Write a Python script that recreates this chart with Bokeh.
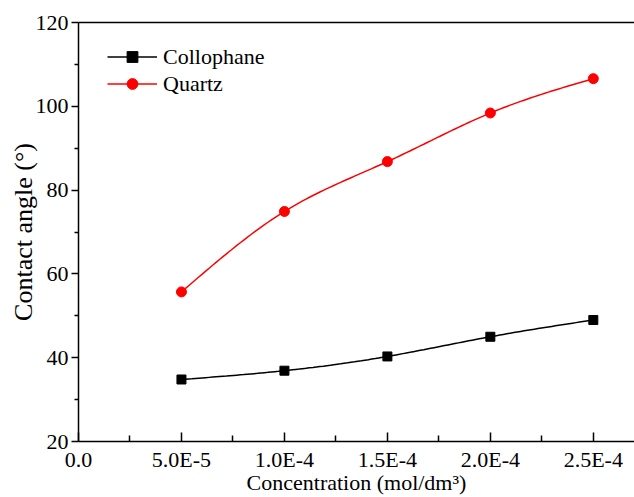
import numpy as np
from bokeh.plotting import figure
from bokeh.models import Range1d, FixedTicker, LinearAxis
from bokeh.embed import file_html
from bokeh.resources import INLINE

# ---- data ----
concentration = [5e-5, 1e-4, 1.5e-4, 2e-4, 2.5e-4]
collophane = [34.8, 36.9, 40.3, 45.0, 49.0]
quartz = [55.7, 74.9, 86.8, 98.4, 106.6]

x_ticks = [0.0, 5e-5, 1e-4, 1.5e-4, 2e-4, 2.5e-4]
x_tick_labels = ["0.0", "5.0E-5", "1.0E-4", "1.5E-4", "2.0E-4", "2.5E-4"]
x_minor = [2.5e-5, 7.5e-5, 1.25e-4, 1.75e-4, 2.25e-4]
y_ticks = [20, 40, 60, 80, 100, 120]
y_minor = [30, 50, 70, 90, 110]

FONT = "Liberation Serif"


def natural_spline(x, y, n=120):
    x = np.asarray(x, float)
    y = np.asarray(y, float)
    k = len(x)
    h = np.diff(x)
    A = np.zeros((k, k))
    b = np.zeros(k)
    A[0, 0] = 1
    A[-1, -1] = 1
    for i in range(1, k - 1):
        A[i, i - 1] = h[i - 1]
        A[i, i] = 2 * (h[i - 1] + h[i])
        A[i, i + 1] = h[i]
        b[i] = 6 * ((y[i + 1] - y[i]) / h[i] - (y[i] - y[i - 1]) / h[i - 1])
    M = np.linalg.solve(A, b)
    xs = np.linspace(x[0], x[-1], n)
    ys = np.empty_like(xs)
    for j, xv in enumerate(xs):
        i = min(np.searchsorted(x, xv, side="right") - 1, k - 2)
        t1 = x[i + 1] - xv
        t0 = xv - x[i]
        ys[j] = (M[i] * t1 ** 3 / (6 * h[i]) + M[i + 1] * t0 ** 3 / (6 * h[i])
                 + (y[i] / h[i] - M[i] * h[i] / 6) * t1
                 + (y[i + 1] / h[i] - M[i + 1] * h[i] / 6) * t0)
    return xs, ys


p = figure(width=634, height=497, output_backend="svg", toolbar_location=None,
           x_range=Range1d(0, 2.70e-4), y_range=Range1d(20, 120),
           min_border_left=78, min_border_top=22, min_border_bottom=56,
           min_border_right=0)
p.outline_line_color = None
p.xgrid.visible = False
p.ygrid.visible = False
p.background_fill_color = "white"

cx, cy = natural_spline(concentration, collophane)
qx, qy = natural_spline(concentration, quartz)

p.line(cx, cy, line_color="black", line_width=1.5, legend_label="Collophane")
p.scatter(concentration, collophane, marker="square", size=9, color="black",
          legend_label="Collophane")
p.line(qx, qy, line_color="#ff0000", line_width=1.5, legend_label="Quartz")
p.scatter(concentration, quartz, marker="circle", size=10, color="#ff0000",
          legend_label="Quartz")

# x axis
xa = p.xaxis[0]
xa.ticker = FixedTicker(ticks=x_ticks, minor_ticks=x_minor)
xa.major_label_overrides = {t: l for t, l in zip(x_ticks, x_tick_labels)}
xa.axis_label = "Concentration (mol/dm\u00b3)"
xa.major_tick_in = 9
xa.major_tick_out = 0
xa.minor_tick_in = 6
xa.minor_tick_out = 0
xa.major_label_standoff = 5
xa.axis_label_standoff = -5

# y axis
ya = p.yaxis[0]
ya.ticker = FixedTicker(ticks=y_ticks, minor_ticks=y_minor)
ya.axis_label = "Contact angle (\u00b0)"
ya.major_tick_in = 0
ya.major_tick_out = 7
ya.minor_tick_in = 0
ya.minor_tick_out = 4
ya.major_label_standoff = 3
ya.axis_label_standoff = -5

for ax in (xa, ya):
    ax.axis_line_width = 1.5
    ax.axis_line_color = "black"
    ax.major_tick_line_width = 1.5
    ax.minor_tick_line_width = 1.5
    ax.major_tick_line_color = "black"
    ax.minor_tick_line_color = "black"
    ax.major_label_text_font = FONT
    ax.major_label_text_font_size = "22px"
    ax.major_label_text_color = "black"
    ax.axis_label_text_font = FONT
    ax.axis_label_text_font_style = "normal"
    ax.axis_label_text_color = "black"
xa.axis_label_text_font_size = "22px"
ya.axis_label_text_font_size = "26px"

top = LinearAxis(ticker=FixedTicker(ticks=[]), axis_line_width=1.5,
                 axis_line_color="black", major_tick_in=0, major_tick_out=0,
                 minor_tick_in=0, minor_tick_out=0)
p.add_layout(top, "above")

lg = p.legend[0]
lg.location = (29, 344)
lg.border_line_color = None
lg.background_fill_alpha = 0
lg.padding = 0
lg.margin = 0
lg.spacing = 0
lg.glyph_width = 50
lg.glyph_height = 27
lg.label_height = 27
lg.label_standoff = 6
lg.label_text_font = FONT
lg.label_text_font_size = "22px"
lg.label_text_color = "black"

open("out.html", "w").write(file_html(p, INLINE))
